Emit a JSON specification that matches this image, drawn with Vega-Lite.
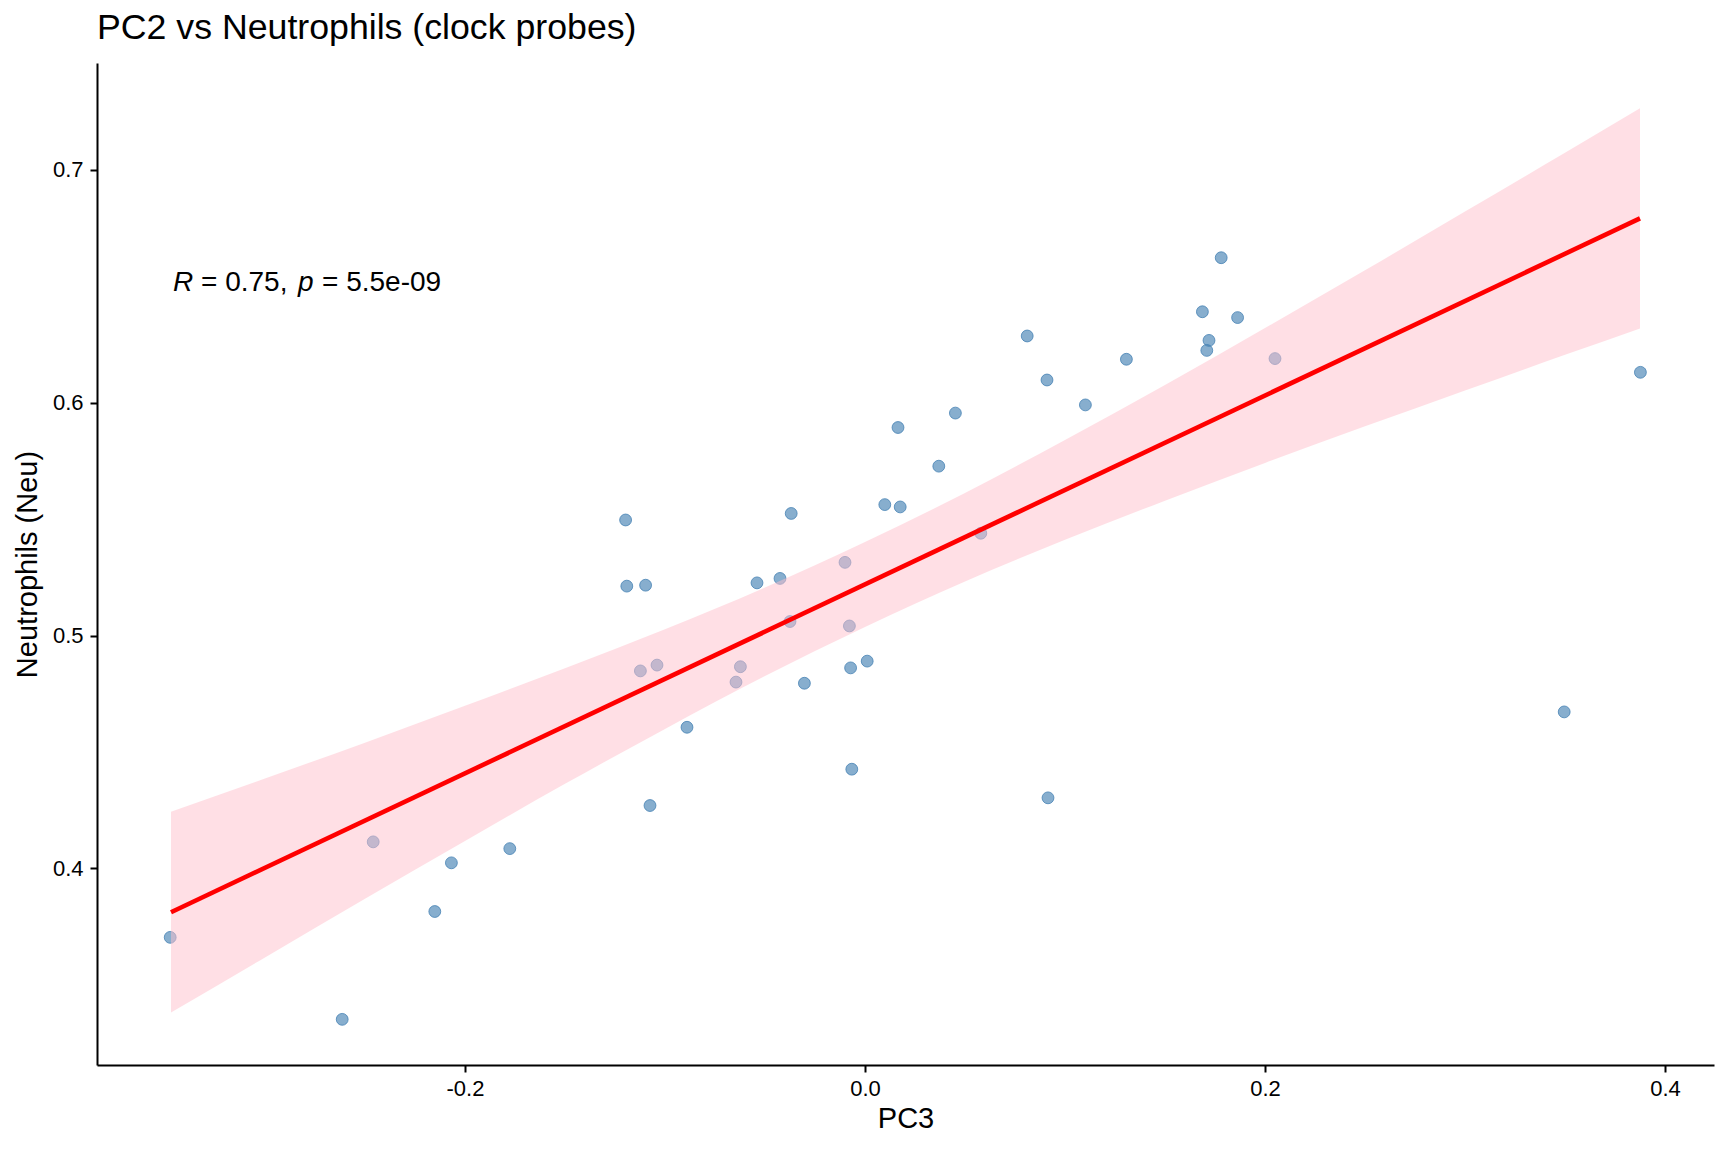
{
  "$schema": "https://vega.github.io/schema/vega-lite/v6.json",
  "width": 1617,
  "height": 1002,
  "autosize": {"type": "none"},
  "padding": {"left": 97, "top": 63, "right": 14, "bottom": 87},
  "background": "white",
  "title": {
    "text": "PC2 vs Neutrophils (clock probes)",
    "anchor": "start",
    "frame": "group",
    "fontSize": 35.7,
    "fontWeight": "normal",
    "font": "Liberation Sans",
    "color": "black",
    "baseline": "alphabetic",
    "offset": 22,
    "dy": 34
  },
  "config": {
    "view": {"stroke": null},
    "font": "Liberation Sans",
    "locale": {
      "number": {"decimal": ".", "thousands": ",", "grouping": [3], "currency": ["$", ""], "minus": "-"}
    },
    "axis": {
      "grid": false,
      "domainColor": "black",
      "domainWidth": 2,
      "tickColor": "black",
      "tickWidth": 2,
      "tickSize": 7,
      "labelColor": "black",
      "labelFont": "Liberation Sans",
      "labelFontSize": 22,
      "titleFont": "Liberation Sans",
      "titleFontSize": 29,
      "titleFontWeight": "normal",
      "titleColor": "black"
    }
  },
  "datasets": {
    "points": [
      {"PC3": -0.3474, "Neu": 0.3704},
      {"PC3": -0.2614, "Neu": 0.3352},
      {"PC3": -0.2459, "Neu": 0.4114},
      {"PC3": -0.2151, "Neu": 0.3815},
      {"PC3": -0.2068, "Neu": 0.4024},
      {"PC3": -0.1776, "Neu": 0.4085},
      {"PC3": -0.1197, "Neu": 0.5496},
      {"PC3": -0.1191, "Neu": 0.5212},
      {"PC3": -0.1097, "Neu": 0.5216},
      {"PC3": -0.1123, "Neu": 0.4848},
      {"PC3": -0.1040, "Neu": 0.4873},
      {"PC3": -0.1075, "Neu": 0.4270},
      {"PC3": -0.0890, "Neu": 0.4606},
      {"PC3": -0.0645, "Neu": 0.4800},
      {"PC3": -0.0623, "Neu": 0.4866},
      {"PC3": -0.0540, "Neu": 0.5226},
      {"PC3": -0.0425, "Neu": 0.5245},
      {"PC3": -0.0369, "Neu": 0.5524},
      {"PC3": -0.0375, "Neu": 0.5060},
      {"PC3": -0.0303, "Neu": 0.4795},
      {"PC3": -0.0100, "Neu": 0.5314},
      {"PC3": -0.0078, "Neu": 0.5041},
      {"PC3": -0.0072, "Neu": 0.4861},
      {"PC3": -0.0066, "Neu": 0.4426},
      {"PC3": 0.0011, "Neu": 0.4890},
      {"PC3": 0.0099, "Neu": 0.5562},
      {"PC3": 0.0176, "Neu": 0.5552},
      {"PC3": 0.0165, "Neu": 0.5893},
      {"PC3": 0.0369, "Neu": 0.5727},
      {"PC3": 0.0452, "Neu": 0.5955},
      {"PC3": 0.0579, "Neu": 0.5439},
      {"PC3": 0.0811, "Neu": 0.6286},
      {"PC3": 0.0910, "Neu": 0.6097},
      {"PC3": 0.0915, "Neu": 0.4303},
      {"PC3": 0.1102, "Neu": 0.5990},
      {"PC3": 0.1307, "Neu": 0.6186},
      {"PC3": 0.1687, "Neu": 0.6390},
      {"PC3": 0.1709, "Neu": 0.6224},
      {"PC3": 0.1720, "Neu": 0.6267},
      {"PC3": 0.1781, "Neu": 0.6622},
      {"PC3": 0.1863, "Neu": 0.6365},
      {"PC3": 0.2050, "Neu": 0.6189},
      {"PC3": 0.3496, "Neu": 0.4672},
      {"PC3": 0.3877, "Neu": 0.6130}
    ],
    "band": [
      {"PC3": -0.347, "Neu": 0.3381, "Neu2": 0.4243},
      {"PC3": -0.30, "Neu": 0.3618, "Neu2": 0.4386},
      {"PC3": -0.25, "Neu": 0.3870, "Neu2": 0.4540},
      {"PC3": -0.20, "Neu": 0.4118, "Neu2": 0.4698},
      {"PC3": -0.15, "Neu": 0.4363, "Neu2": 0.4859},
      {"PC3": -0.10, "Neu": 0.4599, "Neu2": 0.5027},
      {"PC3": -0.05, "Neu": 0.4826, "Neu2": 0.5206},
      {"PC3": 0.00, "Neu": 0.5037, "Neu2": 0.5401},
      {"PC3": 0.05, "Neu": 0.5232, "Neu2": 0.5612},
      {"PC3": 0.10, "Neu": 0.5411, "Neu2": 0.5839},
      {"PC3": 0.15, "Neu": 0.5579, "Neu2": 0.6075},
      {"PC3": 0.20, "Neu": 0.5741, "Neu2": 0.6320},
      {"PC3": 0.25, "Neu": 0.5898, "Neu2": 0.6568},
      {"PC3": 0.30, "Neu": 0.6052, "Neu2": 0.6820},
      {"PC3": 0.35, "Neu": 0.6205, "Neu2": 0.7073},
      {"PC3": 0.3875, "Neu": 0.6318, "Neu2": 0.7264}
    ],
    "fit": [
      {"PC3": -0.347, "Neu": 0.3812},
      {"PC3": 0.3875, "Neu": 0.6791}
    ],
    "label": [
      {"PC3": -0.346, "Neu": 0.648, "text": "R", "italic": true},
      {"PC3": -0.332, "Neu": 0.648, "text": "= 0.75,", "italic": false},
      {"PC3": -0.2835, "Neu": 0.648, "text": "p", "italic": true},
      {"PC3": -0.2715, "Neu": 0.648, "text": "= 5.5e-09", "italic": false}
    ]
  },
  "layer": [
    {
      "data": {"name": "points"},
      "mark": {"type": "point", "shape": "circle", "filled": true, "size": 140, "fill": "#4682b4", "fillOpacity": 0.65, "stroke": "#4682b4", "strokeOpacity": 0.8, "strokeWidth": 1},
      "encoding": {
        "x": {"field": "PC3", "type": "quantitative", "title": "PC3",
              "scale": {"domain": [-0.384, 0.4245], "nice": false, "zero": false},
              "axis": {"values": [-0.2, 0, 0.2, 0.4], "format": ".1f", "labelPadding": 6, "titlePadding": 5, "labelFlush": false}},
        "y": {"field": "Neu", "type": "quantitative", "title": "Neutrophils (Neu)",
              "scale": {"domain": [0.3156, 0.7458], "nice": false, "zero": false},
              "axis": {"values": [0.4, 0.5, 0.6, 0.7], "format": ".1f", "labelPadding": 7, "titlePadding": 10, "labelFlush": false}}
      }
    },
    {
      "data": {"name": "band"},
      "mark": {"type": "area", "fill": "#ffc0cb", "opacity": 0.5, "interpolate": "monotone"},
      "encoding": {
        "x": {"field": "PC3", "type": "quantitative", "title": "PC3"},
        "y": {"field": "Neu", "type": "quantitative", "title": "Neutrophils (Neu)"},
        "y2": {"field": "Neu2"}
      }
    },
    {
      "data": {"name": "fit"},
      "mark": {"type": "line", "color": "#ff0000", "strokeWidth": 4.6},
      "encoding": {
        "x": {"field": "PC3", "type": "quantitative", "title": "PC3"},
        "y": {"field": "Neu", "type": "quantitative", "title": "Neutrophils (Neu)"}
      }
    },
    {
      "data": {"name": "label"},
      "transform": [{"filter": "datum.italic"}],
      "mark": {"type": "text", "align": "left", "baseline": "alphabetic", "fontSize": 28, "fontStyle": "italic", "color": "black", "font": "Liberation Sans"},
      "encoding": {
        "x": {"field": "PC3", "type": "quantitative", "title": "PC3"},
        "y": {"field": "Neu", "type": "quantitative", "title": "Neutrophils (Neu)"},
        "text": {"field": "text"}
      }
    },
    {
      "data": {"name": "label"},
      "transform": [{"filter": "!datum.italic"}],
      "mark": {"type": "text", "align": "left", "baseline": "alphabetic", "fontSize": 28, "color": "black", "font": "Liberation Sans"},
      "encoding": {
        "x": {"field": "PC3", "type": "quantitative", "title": "PC3"},
        "y": {"field": "Neu", "type": "quantitative", "title": "Neutrophils (Neu)"},
        "text": {"field": "text"}
      }
    }
  ]
}
